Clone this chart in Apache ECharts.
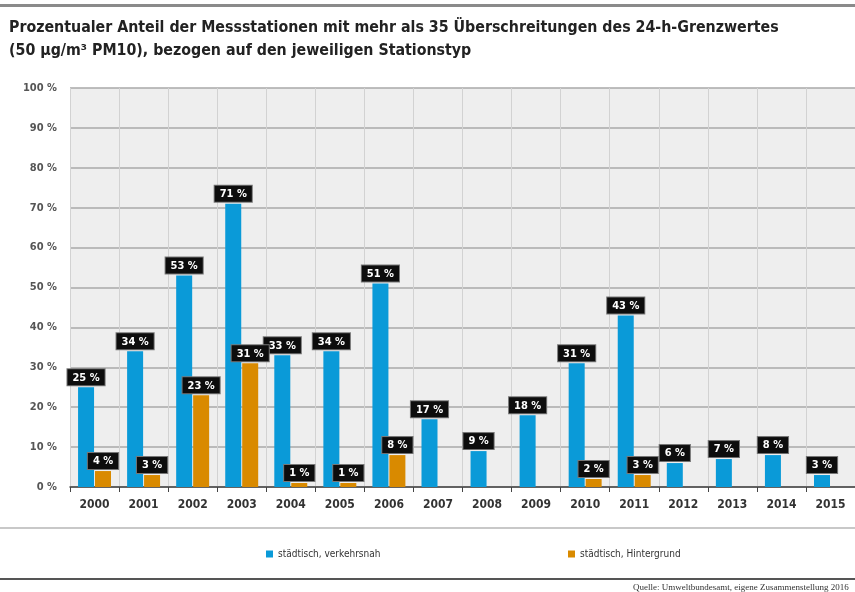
<!DOCTYPE html>
<html>
<head>
<meta charset="utf-8">
<script src="https://cdn.jsdelivr.net/npm/echarts@6/dist/echarts.min.js"></script>
<style>
  html, body { margin: 0; padding: 0; background: #fff; }
  #chart { width: 855px; height: 592px; }
</style>
</head>
<body>
<div id="chart"></div>
<script>
const years = ["2000", "2001", "2002", "2003", "2004", "2005", "2006", "2007",
  "2008", "2009", "2010", "2011", "2012", "2013", "2014", "2015"];
const verkehrsnah = [25, 34, 53, 71, 33, 34, 51, 17, 9, 18, 31, 43, 6, 7, 8, 3];
const hintergrund = [4, 3, 23, 31, 1, 1, 8, null, null, null, 2, 3, null, null, null, null];
const yTicks = [0, 10, 20, 30, 40, 50, 60, 70, 80, 90, 100];

const condensed = "'Liberation Sans Narrow', 'DejaVu Sans Condensed', 'Roboto Condensed', sans-serif";

const barLabel = {
  show: true,
  position: "top",
  distance: 2,
  formatter: (p) => p.value + " %",
  color: "#fff",
  fontFamily: condensed,
  fontWeight: "bold",
  fontSize: 11,
  backgroundColor: "#0d0d0d",
  borderColor: "#777",
  borderWidth: 1,
  padding: [3, 5, 2, 5],
};

const legendText = { fontSize: 10, color: "#333", fontFamily: condensed };

const chart = echarts.init(document.getElementById("chart"));
chart.setOption({
  animation: false,
  title: {
    text: "Prozentualer Anteil der Messstationen mit mehr als 35 Überschreitungen des 24-h-Grenzwertes\n(50 µg/m³ PM10), bezogen auf den jeweiligen Stationstyp",
    left: 4,
    top: 11,
    textStyle: {
      fontFamily: condensed,
      fontSize: 15.8,
      fontWeight: "bold",
      color: "#222",
      lineHeight: 23,
    },
  },
  legend: [
    {
      data: ["städtisch, verkehrsnah"],
      left: 261,
      top: 544,
      itemWidth: 7,
      itemHeight: 7,
      itemGap: 4,
      icon: "rect",
      textStyle: legendText,
    },
    {
      data: ["städtisch, Hintergrund"],
      left: 563,
      top: 544,
      itemWidth: 7,
      itemHeight: 7,
      icon: "rect",
      textStyle: legendText,
    },
  ],
  grid: {
    left: 70,
    right: -4,
    top: 88,
    bottom: 105,
    show: true,
    backgroundColor: "#eeeeee",
    borderWidth: 0,
  },
  xAxis: {
    type: "category",
    data: years,
    axisLine: { lineStyle: { color: "#444", width: 1.5 } },
    axisTick: { show: true, length: 5, lineStyle: { color: "#444" } },
    axisLabel: {
      color: "#333",
      fontFamily: condensed,
      fontWeight: "bold",
      fontSize: 12,
      margin: 12,
    },
    splitLine: { show: true, lineStyle: { color: "#d2d2d2", width: 1 } },
  },
  yAxis: {
    type: "value",
    min: 0,
    max: 100,
    interval: 10,
    axisLine: { show: false },
    axisTick: { show: false },
    axisLabel: {
      formatter: (v) => (yTicks.includes(v) ? v + " %" : ""),
      color: "#555",
      fontFamily: condensed,
      fontWeight: "bold",
      fontSize: 11,
      margin: 13,
    },
    splitLine: { lineStyle: { color: "#a8a8a8", width: 1.5 } },
  },
  series: [
    {
      name: "städtisch, verkehrsnah",
      type: "bar",
      data: verkehrsnah,
      barWidth: 16,
      barGap: "6%",
      itemStyle: { color: "#0a9ad8" },
      label: barLabel,
    },
    {
      name: "städtisch, Hintergrund",
      type: "bar",
      data: hintergrund,
      barWidth: 16,
      itemStyle: { color: "#d98a00" },
      label: barLabel,
    },
  ],
  graphic: [
    {
      type: "rect",
      shape: { x: 0, y: 4, width: 855, height: 3 },
      style: { fill: "#8a8a8a" },
    },
    {
      type: "rect",
      shape: { x: 0, y: 527, width: 855, height: 2 },
      style: { fill: "#c8c8c8" },
    },
    {
      type: "rect",
      shape: { x: 0, y: 578, width: 855, height: 2 },
      style: { fill: "#555" },
    },
    {
      type: "text",
      left: 633,
      top: 583,
      style: {
        text: "Quelle: Umweltbundesamt, eigene Zusammenstellung 2016",
        fontSize: 9,
        fontFamily: "'Liberation Serif', serif",
        fill: "#333",
      },
    },
  ],
});
</script>
</body>
</html>
